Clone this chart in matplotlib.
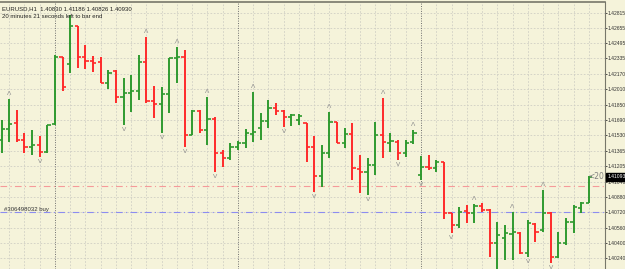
import numpy as np
import matplotlib.pyplot as plt

# EURUSD H1 bars (oldest -> newest)
opens = [1.41478, 1.41593, 1.41656, 1.41478, 1.41405, 1.41426, 1.41352, 1.41646, 1.42349, 1.42275,
         1.42674, 1.42349, 1.42307, 1.42296, 1.42076, 1.42202, 1.41929, 1.41971, 1.41992, 1.42296,
         1.41887, 1.41856, 1.41961, 1.42338, 1.42349, 1.41530, 1.41782, 1.41583, 1.41698, 1.41342,
         1.41289, 1.41405, 1.41447, 1.41541, 1.41604, 1.41677, 1.41814, 1.41782, 1.41719, 1.41688,
         1.41656, 1.41405, 1.41100, 1.41342, 1.41667, 1.41447, 1.41541, 1.41174, 1.41142, 1.41216,
         1.41530, 1.41447, 1.41457, 1.41342, 1.41457, 1.41111, 1.41195, 1.41184, 1.41247, 1.40712,
         1.40586, 1.40733, 1.40712, 1.40786, 1.40744, 1.40397, 1.40450, 1.40492, 1.40502, 1.40292,
         1.40597, 1.40534, 1.40712, 1.40250, 1.40397, 1.40618, 1.40765, 1.40817]
highs = [1.41688, 1.41908, 1.41793, 1.41551, 1.41583, 1.41520, 1.41635, 1.42370, 1.42349, 1.42790,
         1.42674, 1.42475, 1.42359, 1.42349, 1.42213, 1.42213, 1.42129, 1.42160, 1.42370, 1.42559,
         1.42045, 1.42034, 1.42338, 1.42454, 1.42422, 1.41793, 1.41793, 1.41929, 1.41719, 1.41373,
         1.41447, 1.41468, 1.41593, 1.41982, 1.41761, 1.41898, 1.41866, 1.41793, 1.41751, 1.41751,
         1.41656, 1.41520, 1.41426, 1.41772, 1.41667, 1.41604, 1.41656, 1.41321, 1.41289, 1.41667,
         1.41919, 1.41551, 1.41478, 1.41478, 1.41583, 1.41310, 1.41321, 1.41268, 1.41247, 1.40712,
         1.40775, 1.40796, 1.40807, 1.40817, 1.40754, 1.40618, 1.40586, 1.40723, 1.40513, 1.40639,
         1.40607, 1.40953, 1.40723, 1.40513, 1.40660, 1.40796, 1.40828, 1.41100]
lows = [1.41342, 1.41457, 1.41457, 1.41342, 1.41321, 1.41300, 1.41342, 1.41635, 1.41992, 1.42181,
        1.42234, 1.42223, 1.42192, 1.42076, 1.42013, 1.41866, 1.41635, 1.41772, 1.41898, 1.41866,
        1.41709, 1.41551, 1.41761, 1.42076, 1.41405, 1.41530, 1.41551, 1.41426, 1.41142, 1.41195,
        1.41268, 1.41373, 1.41394, 1.41457, 1.41478, 1.41604, 1.41740, 1.41614, 1.41625, 1.41635,
        1.41247, 1.40932, 1.40984, 1.41289, 1.41447, 1.41394, 1.41058, 1.40922, 1.40901, 1.41111,
        1.41289, 1.41352, 1.41268, 1.41300, 1.41436, 1.41058, 1.41163, 1.41142, 1.40649, 1.40502,
        1.40555, 1.40607, 1.40607, 1.40723, 1.40250, 1.40114, 1.40219, 1.40219, 1.40282, 1.40250,
        1.40408, 1.40513, 1.40188, 1.40240, 1.40376, 1.40502, 1.40712, 1.40817]
closes = [1.41593, 1.41646, 1.41478, 1.41405, 1.41426, 1.41352, 1.41635, 1.42349, 1.42034, 1.42674,
          1.42349, 1.42307, 1.42286, 1.42076, 1.42181, 1.41929, 1.41971, 1.41992, 1.42296, 1.41887,
          1.41856, 1.41961, 1.42338, 1.42349, 1.41530, 1.41782, 1.41583, 1.41698, 1.41342, 1.41289,
          1.41405, 1.41447, 1.41551, 1.41562, 1.41677, 1.41814, 1.41782, 1.41719, 1.41740, 1.41730,
          1.41405, 1.41100, 1.41342, 1.41667, 1.41447, 1.41541, 1.41184, 1.41142, 1.41216, 1.41530,
          1.41457, 1.41468, 1.41342, 1.41447, 1.41551, 1.41195, 1.41184, 1.41247, 1.40712, 1.40586,
          1.40723, 1.40712, 1.40786, 1.40744, 1.40397, 1.40481, 1.40502, 1.40513, 1.40292, 1.40607,
          1.40513, 1.40712, 1.40250, 1.40397, 1.40618, 1.40775, 1.40817, 1.41093]

# fractal arrows (bar indices)
up_fractals = [1, 19, 23, 27, 33, 43, 50, 54, 62, 67, 71]
down_fractals = [5, 16, 21, 24, 28, 37, 41, 48, 52, 55, 59, 69, 72]

# day separators (bar indices)
separators = [7, 31, 55]

price_ticks = [1.40240, 1.40400, 1.40560, 1.40720, 1.40880, 1.41040, 1.41205, 1.41365, 1.41530,
               1.41690, 1.41850, 1.42010, 1.42170, 1.42335, 1.42495, 1.42655, 1.42815]
price_labels = ["%.5f" % p for p in price_ticks]

order_buy = 1.40723
order_line = 1.40995
current_price = 1.41093
header = "EURUSD,H1  1.40830 1.41186 1.40826 1.40930"
timer_text = "20 minutes 21 seconds left to bar end"
order_label = "#306498032 buy"

bg = "#F5F3DA"
green = "#2F9A2F"
red = "#FF2A2A"
small_font = "Liberation Sans"

fig = plt.figure(figsize=(6.25, 2.69), dpi=100, facecolor=bg)
ax = fig.add_axes([0, 0, 605 / 625, 267 / 269])
ax.set_facecolor(bg)

x = np.arange(len(opens))
o = np.array(opens)
c = np.array(closes)
cols = np.where(c >= o, green, red)

ax.set_xlim(-0.21, 79.13)
ax.set_ylim(1.40125, 1.42926)

# grid
for gx in range(1, len(opens), 2):
    if gx in separators:
        continue
    ax.axvline(gx, color="#CFCFC4", lw=0.6, ls=(0, (2, 2)), zorder=0)
for p in price_ticks:
    ax.axhline(p, color="#CFCFC4", lw=0.6, ls=(0, (2, 2)), zorder=0)
for s in separators:
    ax.axvline(s, color="#6E6E6E", lw=0.7, ls=(0, (1, 1.5)), zorder=1)

# order lines
ax.axhline(order_line, color="#F59A9A", lw=0.8, ls=(0, (6, 3, 1, 3)), zorder=1)
ax.axhline(order_buy, color="#8C8CF0", lw=0.8, ls=(0, (6, 3, 1, 3)), zorder=1)
ax.text(0.3, order_buy + 0.00004, order_label, fontsize=4.3, color="#333333",
        va="bottom", family=small_font)

# OHLC bars
ax.vlines(x, lows, highs, colors=cols, lw=1.4, zorder=3)
ax.hlines(opens, x - 0.42, x, colors=cols, lw=1.2, zorder=3)
ax.hlines(closes, x, x + 0.42, colors=cols, lw=1.2, zorder=3)

# fractals
for i in up_fractals:
    ax.annotate("\u039b", (i, highs[i]), xytext=(0, 2), textcoords="offset points",
                ha="center", va="bottom", fontsize=4.5, color="#8C8C8C")
for i in down_fractals:
    ax.annotate("V", (i, lows[i]), xytext=(0, -1.5), textcoords="offset points",
                ha="center", va="top", fontsize=4.5, color="#8C8C8C")

# right price scale
ax.yaxis.tick_right()
ax.set_yticks(price_ticks)
ax.set_yticklabels(price_labels, family=small_font)
ax.tick_params(axis="y", labelsize=3.6, length=1.5, width=0.6, pad=0.6, colors="#333333")
ax.set_xticks([])
for side in ["left", "bottom"]:
    ax.spines[side].set_visible(False)
ax.spines["top"].set_color("#77776A")
ax.spines["right"].set_color("#77776A")
ax.spines["top"].set_linewidth(1.2)
ax.spines["right"].set_linewidth(0.8)

# current price box
ax.annotate("%.5f" % current_price, (1.0, current_price), xycoords=("axes fraction", "data"),
            xytext=(1.6, 0), textcoords="offset points", ha="left", va="center",
            fontsize=3.6, color="white", family=small_font,
            bbox=dict(boxstyle="square,pad=0.3", fc="black", ec="black"))
ax.annotate("<20", (1.0, current_price), xycoords=("axes fraction", "data"),
            xytext=(-0.5, 0), textcoords="offset points", ha="right", va="center",
            fontsize=5.5, color="#808080")

# header texts
ax.text(0.004, 0.985, header, transform=ax.transAxes, fontsize=4.3, va="top",
        color="#222222", family=small_font)
ax.text(0.004, 0.955, timer_text, transform=ax.transAxes, fontsize=4.3, va="top",
        color="#222222", family=small_font)

fig.savefig("out.png", dpi=100, facecolor=bg)
